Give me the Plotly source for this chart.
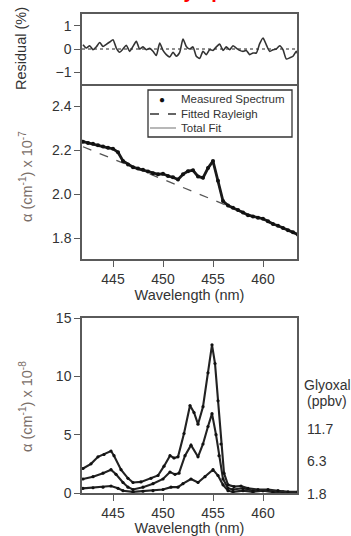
import plotly.graph_objects as go

# ---------------- data ----------------
# Residual panel
res_wl = [442.0,442.33,442.67,443.0,443.33,443.67,444.0,444.33,444.67,445.0,445.33,445.67,
          446.0,446.33,446.67,447.0,447.33,447.67,448.0,448.33,448.67,449.0,449.33,449.67,
          450.0,450.33,450.67,451.0,451.33,451.67,452.0,452.33,452.67,453.0,453.33,453.67,
          454.0,454.33,454.67,455.0,455.33,455.67,456.0,456.33,456.67,457.0,457.33,457.67,
          458.0,458.33,458.67,459.0,459.33,459.67,460.0,460.33,460.67,461.0,461.33,461.67,
          462.0,462.33,462.67,463.0,463.33,463.5]
residual = [0.18,0.04,0.14,-0.03,0.09,0.28,0.11,0.20,0.30,0.40,0.04,-0.14,
            0.0,0.16,-0.10,0.11,0.33,0.0,0.09,-0.03,0.03,-0.10,-0.28,0.25,
            -0.06,-0.24,-0.34,-0.14,-0.31,-0.14,0.43,0.11,0.0,0.09,-0.31,-0.40,
            -0.10,-0.24,-0.03,-0.06,0.09,0.21,-0.06,0.09,-0.03,0.14,0.04,-0.06,
            -0.10,-0.06,-0.24,-0.17,-0.17,0.23,0.47,0.18,-0.10,-0.03,0.0,0.14,
            -0.03,-0.43,-0.38,-0.31,-0.10,-0.24]

# Middle panel (alpha x 1e-7)
meas_wl = [442.0,442.5,443.0,443.5,444.0,444.5,445.0,445.5,446.0,446.5,447.0,447.5,
           448.0,448.5,449.0,449.5,450.0,450.5,451.0,451.5,452.0,452.5,453.0,453.5,
           454.0,454.5,455.0,455.5,456.0,456.5,457.0,457.5,458.0,458.5,459.0,459.5,
           460.0,460.5,461.0,461.5,462.0,462.5,463.0,463.5]
measured = [2.238,2.232,2.228,2.222,2.216,2.210,2.206,2.190,2.150,2.134,2.122,2.116,
            2.110,2.102,2.095,2.090,2.092,2.082,2.076,2.066,2.090,2.104,2.108,2.080,
            2.074,2.118,2.150,2.060,1.968,1.948,1.938,1.928,1.916,1.904,1.898,1.892,
            1.888,1.876,1.864,1.856,1.846,1.836,1.826,1.816]
total_fit = [2.237,2.232,2.227,2.222,2.216,2.211,2.205,2.188,2.151,2.133,2.122,2.115,
             2.109,2.102,2.096,2.091,2.090,2.083,2.075,2.068,2.089,2.103,2.106,2.081,
             2.076,2.116,2.148,2.062,1.967,1.947,1.937,1.927,1.916,1.905,1.898,1.891,
             1.886,1.876,1.865,1.855,1.846,1.836,1.826,1.816]
ray_wl = [442.0,444.0,446.0,448.0,450.0,452.0,454.0,456.0,458.0,460.0,462.0,463.5]
rayleigh = [2.215,2.177,2.141,2.104,2.067,2.030,1.994,1.958,1.920,1.883,1.846,1.816]
legend_names = ["Measured Spectrum", "Fitted Rayleigh", "Total Fit"]

# Bottom panel (alpha x 1e-8)
g117_wl = [442.0,442.8,443.5,444.1,444.8,445.1,445.8,446.5,447.0,447.8,448.8,449.5,
           450.1,450.7,451.1,451.5,452.1,452.7,453.1,453.5,454.0,454.5,454.9,455.2,
           455.5,455.8,456.1,456.5,457.1,457.8,458.5,459.5,460.5,461.5,462.5,463.5]
g117 = [2.1,2.5,3.1,3.3,3.6,3.2,2.0,1.26,0.9,0.95,1.26,1.5,
        2.3,3.2,3.0,3.1,5.1,7.5,6.9,5.9,7.4,10.3,12.7,11.1,
        7.9,4.2,1.7,0.7,0.55,0.6,0.4,0.3,0.3,0.2,0.1,0.1]
g63_wl = [442.0,443.0,444.0,444.8,445.3,446.0,446.5,447.0,448.0,449.0,450.0,450.7,
          451.2,451.6,452.2,452.8,453.5,454.0,454.5,454.9,455.3,455.6,456.0,456.5,
          457.0,458.0,459.0,460.0,461.0,462.0,463.5]
g63 = [1.2,1.4,1.7,2.0,1.6,0.9,0.5,0.3,0.5,0.8,1.2,1.8,
       1.6,1.7,3.2,4.1,3.1,4.2,5.7,6.8,5.0,3.2,1.2,0.4,
       0.3,0.4,0.2,0.2,0.1,0.1,0.05]
g18_wl = [442.0,443.0,444.0,444.8,445.5,446.0,447.0,448.0,449.0,450.0,450.8,451.5,
          452.0,452.8,453.5,454.2,455.0,455.5,456.0,456.5,457.0,458.0,459.0,460.0,
          461.0,462.0,463.5]
g18 = [0.4,0.45,0.5,0.6,0.4,0.2,0.1,0.15,0.2,0.3,0.5,0.5,
       0.8,1.2,0.9,1.4,2.0,1.5,0.7,0.2,0.1,0.2,0.1,0.2,
       0.1,0.05,0.05]

conc_labels = ["11.7", "6.3", "1.8"]
x_ticks = [445, 450, 455, 460]

# ---------------- figure ----------------
W, H = 351, 536
L, R, T, B = 82, 54, 14, 43
PH = H - T - B
PW = W - L - R


def py(ypix):
    return (H - B - ypix) / PH


def px(xpix):
    return (xpix - L) / PW


FONT = "Liberation Sans, Arial, sans-serif"
TXT = "#333333"
AX = "#5a5a5a"

fig = go.Figure()

# residual
fig.add_trace(go.Scatter(x=res_wl, y=residual, xaxis="x3", yaxis="y3", mode="lines",
                         line=dict(color="#333333", width=1.6, shape="spline", smoothing=0.6),
                         showlegend=False))

# middle panel
fig.add_trace(go.Scatter(x=meas_wl, y=total_fit, xaxis="x2", yaxis="y2",
                         mode="lines", line=dict(color="#a0a0a0", width=1.5),
                         name=legend_names[2], showlegend=False))
fig.add_trace(go.Scatter(x=ray_wl, y=rayleigh, xaxis="x2", yaxis="y2", mode="lines",
                         line=dict(color="#555555", width=1.3, dash="dash"),
                         name=legend_names[1], showlegend=False))
fig.add_trace(go.Scatter(x=meas_wl, y=measured, xaxis="x2", yaxis="y2", mode="lines+markers",
                         line=dict(color="#1a1a1a", width=2.8),
                         marker=dict(color="#111111", size=4),
                         name=legend_names[0], showlegend=False))

# bottom panel
for wl, vals in [(g18_wl, g18), (g63_wl, g63), (g117_wl, g117)]:
    fig.add_trace(go.Scatter(x=wl, y=vals, xaxis="x", yaxis="y", mode="lines+markers",
                             line=dict(color="#222222", width=2.1),
                             marker=dict(color="#111111", size=3.2),
                             showlegend=False))

xr = [441.9, 463.4]
axis_common = dict(showline=True, linecolor=AX, linewidth=1.5, mirror=True,
                   showgrid=False, zeroline=False, ticks="outside", ticklen=6,
                   tickwidth=1.3, tickcolor=AX, automargin=False,
                   tickfont=dict(family=FONT, size=14, color=TXT))

d_top = [py(84), 1.0]
d_mid = [py(259), py(84)]
d_bot = [0.0, py(318)]

fig.update_layout(
    width=W, height=H,
    margin=dict(l=L, r=R, t=T, b=B, autoexpand=False),
    paper_bgcolor="white", plot_bgcolor="white",
    font=dict(family=FONT, color=TXT),
    showlegend=False,
    xaxis=dict(axis_common, domain=[0, 1], anchor="y", range=xr, tickvals=x_ticks,
               title=dict(text="Wavelength (nm)", font=dict(size=14.5, color=TXT), standoff=4)),
    yaxis=dict(axis_common, domain=d_bot, anchor="x", range=[0, 15], tickvals=[0, 5, 10, 15]),
    xaxis2=dict(axis_common, domain=[0, 1], anchor="y2", range=xr, tickvals=x_ticks, mirror=False,
                title=dict(text="Wavelength (nm)", font=dict(size=14.5, color=TXT), standoff=3)),
    yaxis2=dict(axis_common, domain=d_mid, anchor="x2", range=[1.705, 2.5],
                tickvals=[1.8, 2.0, 2.2, 2.4], tickformat=".1f"),
    xaxis3=dict(axis_common, domain=[0, 1], anchor="y3", range=xr, matches="x2",
                showticklabels=False, ticks="", linewidth=2),
    yaxis3=dict(axis_common, domain=d_top, anchor="x3", range=[-1.5, 1.5],
                tickvals=[-1, 0, 1]),
)

shapes = [dict(type="line", xref="x3 domain", yref="y3", x0=0, x1=1, y0=0, y1=0,
               line=dict(color="#222222", width=1, dash="dot"), layer="below")]
# manual legend box and keys
shapes.append(dict(type="rect", xref="paper", yref="paper", x0=px(148), x1=px(292),
                   y0=py(137), y1=py(90), line=dict(color="#333333", width=1.3),
                   fillcolor="white", layer="above"))
shapes.append(dict(type="line", xref="paper", yref="paper", x0=px(150), x1=px(176),
                   y0=py(114), y1=py(114), line=dict(color="#333333", width=1.3, dash="dash"),
                   layer="above"))
shapes.append(dict(type="line", xref="paper", yref="paper", x0=px(150), x1=px(176),
                   y0=py(128), y1=py(128), line=dict(color="#a0a0a0", width=1.5),
                   layer="above"))
fig.update_layout(shapes=shapes)


def note(text, xp, yp, size=14.5, color=TXT, xa="center", ya="middle", angle=0):
    return dict(text=text, x=px(xp), y=py(yp), xref="paper", yref="paper",
                xanchor=xa, yanchor=ya, textangle=angle, showarrow=False,
                font=dict(family=FONT, size=size, color=color))


ann = [note("\u25cf", 162, 99, size=10, color="#111111")]
for name, yp in zip(legend_names, [99, 114, 128]):
    ann.append(note(name, 179, yp, size=11.5, xa="left"))
# y-axis titles
ann.append(note("Residual (%)", 21, 49, angle=-90))
ann.append(note("\u03b1 (cm<sup>-1</sup>) x 10<sup>-7</sup>", 26, 177, color="#7a6e68", angle=-90))
ann.append(note("\u03b1 (cm<sup>-1</sup>) x 10<sup>-8</sup>", 26, 407, color="#7a6e68", angle=-90))
# right-side labels
ann.append(note("Glyoxal", 302, 385, size=14, xa="left"))
ann.append(note("(ppbv)", 305, 401, size=14, xa="left"))
for lab, yp in zip(conc_labels, [429, 461, 494]):
    ann.append(note(lab, 305, yp, size=14, xa="left"))
# clipped red heading at the very top (only its lower edge shows in the reference)
ann.append(note("<b>Extinction by species</b>", 171, 4, size=20, color="red", ya="bottom"))
fig.update_layout(annotations=ann)

fig.write_html("out.html")
